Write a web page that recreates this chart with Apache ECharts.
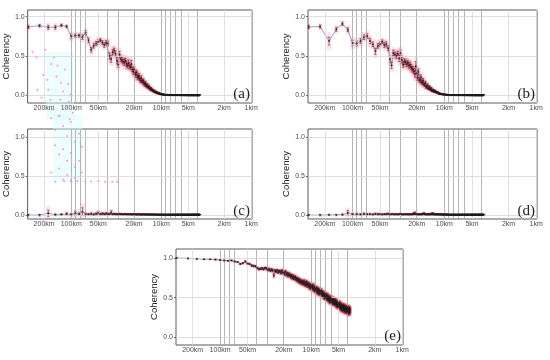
<!DOCTYPE html>
<html><head><meta charset="utf-8">
<script src="https://cdn.jsdelivr.net/npm/echarts@6/dist/echarts.min.js"></script>
<style>html,body{margin:0;padding:0;background:#fff}#c{width:550px;height:360px}</style>
</head><body><div id="c"></div>
<script>
// wavelength of each spectral estimate (km), wavenumber index n = 3..240
const wavelengthKm = [
300,225,180,150,128.6,112.5,100,90,81.8,75,
69.2,64.3,60,56.3,52.9,50,47.4,45,42.9,40.9,
39.1,37.5,36,34.6,33.3,32.1,31.0,30,29.0,28.1,
27.3,26.5,25.7,25,24.3,23.7,23.1,22.5,21.95,21.43,
20.93,20.45,20,19.57,19.15,18.75,18.37,18,17.65,17.31,
16.98,16.67,16.36,16.07,15.79,15.52,15.25,15,14.75,14.52,
14.29,14.06,13.85,13.64,13.43,13.24,13.04,12.86,12.68,12.5,
12.33,12.16,12,11.84,11.69,11.54,11.39,11.25,11.11,10.98,
10.84,10.71,10.59,10.47,10.34,10.23,10.11,10,9.89,9.78,
9.68,9.57,9.47,9.38,9.28,9.18,9.09,9,8.91,8.82,
8.74,8.65,8.57,8.49,8.41,8.33,8.26,8.18,8.11,8.04,
7.96,7.89,7.83,7.76,7.69,7.63,7.56,7.5,7.44,7.38,
7.32,7.26,7.2,7.14,7.09,7.03,6.98,6.92,6.87,6.82,
6.77,6.72,6.67,6.62,6.57,6.52,6.47,6.43,6.38,6.34,
6.29,6.25,6.21,6.16,6.12,6.08,6.04,6,5.96,5.92,
5.88,5.84,5.81,5.77,5.73,5.70,5.66,5.63,5.59,5.56,
5.52,5.49,5.45,5.42,5.39,5.36,5.33,5.29,5.26,5.23,
5.20,5.17,5.14,5.11,5.08,5.06,5.03,5,4.97,4.95,
4.92,4.89,4.86,4.84,4.81,4.79,4.76,4.74,4.71,4.69,
4.66,4.64,4.62,4.59,4.57,4.55,4.52,4.5,4.48,4.46,
4.43,4.41,4.39,4.37,4.35,4.33,4.31,4.29,4.27,4.25,
4.23,4.21,4.19,4.17,4.15,4.13,4.11,4.09,4.07,4.05,
4.04,4.02,4,3.98,3.96,3.95,3.93,3.91,3.90,3.88,
3.86,3.85,3.83,3.81,3.80,3.78,3.77,3.75];

// ---- panel (a)
const cohA = [
0.87,0.885,0.865,0.865,0.89,0.875,0.75,0.76,0.76,0.74,
0.80,0.70,0.58,0.63,0.66,0.68,0.70,0.67,0.64,0.67,
0.66,0.50,0.46,0.55,0.57,0.53,0.44,0.39,0.52,0.46,
0.45,0.43,0.42,0.44,0.40,0.38,0.41,0.38,0.36,0.40,
0.33,0.30,0.33,0.28,0.26,0.29,0.24,0.23,0.25,0.21,
0.19,0.22,0.18,0.17,0.19,0.15,0.14,0.16,0.13,0.12,
0.13,0.11,0.10,0.11,0.09,0.08,0.09,0.075,0.07,0.065,
0.06,0.06,0.05,0.05,0.045,0.04,0.04,0.035,0.035,0.03,
0.03,0.025,0.025,0.02,0.02,0.02,0.015,0.015,0.012,0.01,
0.012,0.01,0.008,0.01,0.008,0.006,0.008,0.006,0.005,0.007,
0.006,0.004,0.007,0.005,0.003,0.006,0.005,0.004,0.007,0.005,
0.004,0.006,0.003,0.005,0.006,0.004,0.005,0.003,0.006,0.004,
0.005,0.003,0.004,0.006,0.004,0.005,0.003,0.005,0.004,0.006,
0.003,0.005,0.004,0.003,0.005,0.004,0.006,0.003,0.004,0.005,
0.004,0.003,0.005,0.004,0.003,0.004,0.005,0.003,0.004,0.003,
0.005,0.003,0.004,0.003,0.004,0.005,0.003,0.004,0.003,0.004,
0.003,0.004,0.003,0.005,0.003,0.004,0.003,0.004,0.003,0.003,
0.004,0.003,0.004,0.003,0.003,0.004,0.003,0.004,0.003,0.003,
0.003,0.004,0.003,0.003,0.004,0.003,0.003,0.004,0.003,0.003,
0.004,0.003,0.003,0.004,0.003,0.003,0.004,0.003,0.003,0.004,
0.003,0.003,0.004,0.003,0.003,0.004,0.003,0.003,0.004,0.003,
0.003,0.004,0.003,0.003,0.004,0.003,0.003,0.004,0.003,0.003,
0.004,0.003,0.003,0.004,0.003,0.003,0.004,0.003,0.003,0.004,
0.003,0.003,0.004,0.003,0.003,0.004,0.003,0.003];
const errA = [
0.02,0.015,0.025,0.025,0.015,0.015,0.03,0.02,0.02,0.03,
0.025,0.03,0.03,0.03,0.025,0.03,0.02,0.025,0.03,0.025,
0.03,0.04,0.04,0.035,0.03,0.035,0.04,0.035,0.04,0.03,
0.035,0.03,0.04,0.03,0.035,0.03,0.04,0.035,0.03,0.045,
0.03,0.035,0.03,0.03,0.035,0.025,0.03,0.025,0.03,0.025,
0.025,0.03,0.02,0.025,0.02,0.02,0.025,0.02,0.015,0.02,
0.02,0.015,0.015,0.02,0.015,0.015,0.012,0.015,0.012,0.01,
0.012,0.01,0.01,0.012,0.01,0.008,0.01,0.008,0.008,0.008,
0.008,0.008,0.007,0.008,0.007,0.007,0.006,0.007,0.006,0.006,
0.006,0.005,0.006,0.005,0.005,0.006,0.005,0.005,0.004,0.005,
0.005,0.004,0.005,0.004,0.004,0.005,0.004,0.005,0.004,0.004,
0.004,0.005,0.004,0.004,0.005,0.004,0.004,0.005,0.004,0.004,
0.005,0.004,0.004,0.005,0.004,0.004,0.005,0.004,0.004,0.005,
0.004,0.004,0.005,0.004,0.004,0.005,0.004,0.004,0.005,0.004,
0.004,0.005,0.004,0.004,0.005,0.004,0.004,0.005,0.004,0.004,
0.005,0.004,0.004,0.005,0.004,0.004,0.005,0.004,0.004,0.005,
0.004,0.004,0.005,0.004,0.004,0.005,0.004,0.004,0.005,0.004,
0.004,0.005,0.004,0.004,0.005,0.004,0.004,0.005,0.004,0.004,
0.005,0.004,0.004,0.005,0.004,0.004,0.005,0.004,0.004,0.005,
0.004,0.004,0.005,0.004,0.004,0.005,0.004,0.004,0.005,0.004,
0.004,0.005,0.004,0.004,0.005,0.004,0.004,0.005,0.004,0.004,
0.005,0.004,0.004,0.005,0.004,0.004,0.005,0.004,0.004,0.005,
0.004,0.004,0.005,0.004,0.004,0.005,0.004,0.004,0.005,0.004,
0.004,0.005,0.004,0.004,0.005,0.004,0.004,0.005];

// ---- panel (b)
const cohB = [
0.87,0.875,0.69,0.84,0.91,0.835,0.665,0.66,0.69,0.74,
0.755,0.69,0.65,0.56,0.63,0.65,0.68,0.64,0.65,0.60,
0.46,0.38,0.54,0.52,0.50,0.53,0.47,0.54,0.45,0.39,
0.43,0.42,0.40,0.41,0.38,0.39,0.36,0.34,0.33,0.31,
0.27,0.37,0.28,0.22,0.30,0.20,0.19,0.23,0.17,0.16,
0.19,0.14,0.13,0.16,0.11,0.11,0.13,0.09,0.09,0.11,
0.08,0.07,0.09,0.06,0.06,0.07,0.05,0.05,0.06,0.045,
0.04,0.045,0.035,0.03,0.035,0.025,0.025,0.02,0.022,0.018,
0.017,0.015,0.016,0.012,0.013,0.011,0.01,0.009,0.01,0.008,
0.008,0.007,0.008,0.006,0.007,0.005,0.006,0.005,0.006,0.004,
0.005,0.003,0.006,0.004,0.005,0.003,0.006,0.004,0.005,0.004,
0.006,0.004,0.005,0.003,0.005,0.004,0.006,0.003,0.004,0.005,
0.004,0.005,0.003,0.004,0.006,0.003,0.004,0.005,0.003,0.004,
0.005,0.003,0.004,0.004,0.003,0.005,0.004,0.003,0.004,0.005,
0.003,0.004,0.004,0.003,0.005,0.003,0.004,0.003,0.004,0.004,
0.003,0.004,0.003,0.005,0.003,0.004,0.004,0.003,0.004,0.003,
0.004,0.003,0.004,0.003,0.004,0.003,0.003,0.004,0.003,0.004,
0.003,0.004,0.003,0.003,0.004,0.003,0.004,0.003,0.003,0.004,
0.003,0.003,0.004,0.003,0.003,0.004,0.003,0.003,0.004,0.003,
0.003,0.004,0.003,0.003,0.004,0.003,0.003,0.004,0.003,0.003,
0.004,0.003,0.003,0.004,0.003,0.003,0.004,0.003,0.003,0.004,
0.003,0.003,0.004,0.003,0.003,0.004,0.003,0.003,0.004,0.003,
0.003,0.004,0.003,0.003,0.004,0.003,0.003,0.004,0.003,0.003,
0.004,0.003,0.003,0.004,0.003,0.003,0.004,0.003];
const errB = [
0.02,0.02,0.05,0.025,0.02,0.025,0.035,0.03,0.03,0.03,
0.03,0.035,0.03,0.04,0.03,0.03,0.025,0.03,0.03,0.03,
0.04,0.04,0.035,0.03,0.035,0.03,0.04,0.035,0.04,0.035,
0.035,0.03,0.035,0.03,0.035,0.03,0.035,0.03,0.035,0.03,
0.04,0.06,0.035,0.03,0.035,0.03,0.03,0.03,0.025,0.025,
0.025,0.02,0.02,0.02,0.02,0.018,0.018,0.015,0.015,0.015,
0.015,0.012,0.012,0.012,0.01,0.01,0.01,0.01,0.008,0.008,
0.008,0.008,0.008,0.007,0.007,0.007,0.006,0.006,0.006,0.006,
0.006,0.005,0.006,0.005,0.005,0.006,0.005,0.005,0.005,0.005,
0.005,0.004,0.005,0.005,0.004,0.005,0.004,0.005,0.004,0.004,
0.005,0.004,0.004,0.005,0.004,0.004,0.005,0.004,0.004,0.005,
0.004,0.004,0.005,0.004,0.004,0.005,0.004,0.004,0.005,0.004,
0.004,0.005,0.004,0.004,0.005,0.004,0.004,0.005,0.004,0.004,
0.005,0.004,0.004,0.005,0.004,0.004,0.005,0.004,0.004,0.005,
0.004,0.004,0.005,0.004,0.004,0.005,0.004,0.004,0.005,0.004,
0.004,0.005,0.004,0.004,0.005,0.004,0.004,0.005,0.004,0.004,
0.005,0.004,0.004,0.005,0.004,0.004,0.005,0.004,0.004,0.005,
0.004,0.004,0.005,0.004,0.004,0.005,0.004,0.004,0.005,0.004,
0.004,0.005,0.004,0.004,0.005,0.004,0.004,0.005,0.004,0.004,
0.005,0.004,0.004,0.005,0.004,0.004,0.005,0.004,0.004,0.005,
0.004,0.004,0.005,0.004,0.004,0.005,0.004,0.004,0.005,0.004,
0.004,0.005,0.004,0.004,0.005,0.004,0.004,0.005,0.004,0.004,
0.005,0.004,0.004,0.005,0.004,0.004,0.005,0.004,0.004,0.005,
0.004,0.004,0.005,0.004,0.004,0.005,0.004,0.004];

// ---- panel (c)
const cohC = [
0.0,0.0,0.025,0.005,0.008,0.015,0.008,0.025,0.015,0.045,
0.012,0.01,0.015,0.008,0.015,0.028,0.012,0.018,0.01,0.02,
0.012,0.015,0.035,0.01,0.015,0.01,0.012,0.008,0.015,0.01,
0.012,0.008,0.01,0.014,0.008,0.01,0.012,0.007,0.01,0.009,
0.008,0.011,0.007,0.01,0.008,0.006,0.01,0.008,0.007,0.009,
0.007,0.009,0.006,0.008,0.007,0.01,0.006,0.008,0.007,0.006,
0.008,0.006,0.007,0.009,0.006,0.007,0.006,0.008,0.006,0.007,
0.006,0.008,0.005,0.007,0.006,0.005,0.007,0.006,0.005,0.006,
0.007,0.005,0.006,0.005,0.007,0.006,0.005,0.006,0.005,0.007,
0.005,0.006,0.005,0.004,0.006,0.005,0.006,0.004,0.005,0.006,
0.005,0.004,0.006,0.005,0.004,0.005,0.006,0.004,0.005,0.004,
0.006,0.005,0.004,0.005,0.006,0.004,0.005,0.004,0.006,0.005,
0.004,0.005,0.006,0.004,0.005,0.004,0.005,0.006,0.004,0.005,
0.005,0.004,0.005,0.006,0.004,0.005,0.004,0.005,0.004,0.006,
0.004,0.005,0.004,0.005,0.006,0.004,0.005,0.004,0.005,0.004,
0.005,0.004,0.006,0.004,0.005,0.004,0.005,0.004,0.005,0.004,
0.004,0.005,0.004,0.005,0.004,0.005,0.004,0.004,0.005,0.004,
0.005,0.004,0.004,0.005,0.004,0.005,0.004,0.004,0.005,0.004,
0.004,0.005,0.004,0.004,0.005,0.004,0.004,0.005,0.004,0.004,
0.005,0.004,0.004,0.005,0.004,0.004,0.005,0.004,0.004,0.005,
0.004,0.004,0.005,0.004,0.004,0.005,0.004,0.004,0.005,0.004,
0.004,0.005,0.004,0.004,0.005,0.004,0.004,0.005,0.004,0.004,
0.005,0.004,0.004,0.005,0.004,0.004,0.005,0.004,0.004,0.005,
0.004,0.004,0.005,0.004,0.004,0.005,0.004,0.004];
const errC = [
0.01,0.01,0.04,0.01,0.01,0.015,0.01,0.025,0.015,0.05,
0.015,0.01,0.015,0.01,0.015,0.02,0.01,0.015,0.01,0.015,
0.01,0.01,0.02,0.008,0.01,0.008,0.01,0.008,0.01,0.008,
0.008,0.007,0.008,0.008,0.007,0.008,0.007,0.007,0.008,0.007,
0.007,0.006,0.007,0.007,0.006,0.007,0.006,0.006,0.007,0.006,
0.006,0.006,0.005,0.006,0.006,0.005,0.006,0.005,0.006,0.005,
0.005,0.006,0.005,0.005,0.006,0.005,0.005,0.006,0.005,0.005,
0.005,0.005,0.004,0.005,0.005,0.004,0.005,0.004,0.005,0.004,
0.004,0.005,0.004,0.004,0.005,0.004,0.004,0.005,0.004,0.004,
0.005,0.004,0.004,0.005,0.004,0.004,0.005,0.004,0.004,0.005,
0.004,0.004,0.005,0.004,0.004,0.005,0.004,0.004,0.005,0.004,
0.004,0.005,0.004,0.004,0.005,0.004,0.004,0.005,0.004,0.004,
0.005,0.004,0.004,0.005,0.004,0.004,0.005,0.004,0.004,0.005,
0.004,0.004,0.005,0.004,0.004,0.005,0.004,0.004,0.005,0.004,
0.004,0.005,0.004,0.004,0.005,0.004,0.004,0.005,0.004,0.004,
0.005,0.004,0.004,0.005,0.004,0.004,0.005,0.004,0.004,0.005,
0.004,0.004,0.005,0.004,0.004,0.005,0.004,0.004,0.005,0.004,
0.004,0.005,0.004,0.004,0.005,0.004,0.004,0.005,0.004,0.004,
0.005,0.004,0.004,0.005,0.004,0.004,0.005,0.004,0.004,0.005,
0.004,0.004,0.005,0.004,0.004,0.005,0.004,0.004,0.005,0.004,
0.004,0.005,0.004,0.004,0.005,0.004,0.004,0.005,0.004,0.004,
0.005,0.004,0.004,0.005,0.004,0.004,0.005,0.004,0.004,0.005,
0.004,0.004,0.005,0.004,0.004,0.005,0.004,0.004,0.005,0.004,
0.004,0.005,0.004,0.004,0.005,0.004,0.004,0.005];

// ---- panel (d)
const cohD = [
0.0,0.0,0.003,0.002,0.005,0.03,0.01,0.012,0.008,0.015,
0.01,0.012,0.008,0.015,0.01,0.012,0.008,0.01,0.012,0.015,
0.008,0.01,0.012,0.009,0.011,0.008,0.01,0.013,0.009,0.008,
0.01,0.008,0.012,0.009,0.007,0.01,0.008,0.011,0.009,0.02,
0.025,0.012,0.008,0.01,0.009,0.012,0.008,0.01,0.009,0.011,
0.015,0.02,0.01,0.009,0.012,0.008,0.01,0.009,0.012,0.008,
0.01,0.009,0.018,0.012,0.009,0.02,0.01,0.008,0.009,0.011,
0.008,0.009,0.007,0.01,0.008,0.007,0.009,0.008,0.007,0.009,
0.008,0.007,0.006,0.008,0.007,0.006,0.008,0.007,0.006,0.007,
0.006,0.007,0.006,0.005,0.007,0.006,0.005,0.006,0.007,0.005,
0.006,0.005,0.006,0.005,0.004,0.006,0.005,0.006,0.004,0.005,
0.006,0.004,0.005,0.006,0.005,0.004,0.006,0.005,0.004,0.005,
0.005,0.004,0.006,0.005,0.004,0.005,0.004,0.006,0.005,0.004,
0.005,0.006,0.004,0.005,0.004,0.005,0.006,0.004,0.005,0.004,
0.004,0.005,0.004,0.006,0.004,0.005,0.004,0.005,0.004,0.005,
0.005,0.004,0.005,0.004,0.006,0.004,0.005,0.004,0.004,0.005,
0.004,0.005,0.004,0.004,0.005,0.004,0.005,0.004,0.004,0.005,
0.004,0.004,0.005,0.004,0.004,0.005,0.004,0.004,0.005,0.004,
0.005,0.004,0.004,0.005,0.004,0.004,0.005,0.004,0.004,0.005,
0.004,0.004,0.005,0.004,0.004,0.005,0.004,0.004,0.005,0.004,
0.004,0.005,0.004,0.004,0.005,0.004,0.004,0.005,0.004,0.004,
0.005,0.004,0.004,0.005,0.004,0.004,0.005,0.004,0.004,0.005,
0.004,0.004,0.005,0.004,0.004,0.005,0.004,0.004,0.005,0.004,
0.004,0.005,0.004,0.004,0.005,0.004,0.004,0.005];
const errD = [
0.008,0.008,0.008,0.008,0.01,0.03,0.01,0.012,0.01,0.012,
0.01,0.01,0.008,0.012,0.01,0.01,0.008,0.01,0.01,0.012,
0.008,0.009,0.01,0.008,0.009,0.008,0.009,0.01,0.008,0.008,
0.008,0.007,0.009,0.008,0.007,0.008,0.007,0.008,0.007,0.012,
0.015,0.009,0.007,0.008,0.007,0.008,0.007,0.008,0.007,0.008,
0.01,0.012,0.008,0.007,0.008,0.007,0.007,0.007,0.008,0.007,
0.007,0.007,0.01,0.008,0.007,0.012,0.007,0.006,0.007,0.007,
0.006,0.006,0.006,0.006,0.006,0.005,0.006,0.006,0.005,0.006,
0.005,0.005,0.005,0.006,0.005,0.005,0.005,0.005,0.005,0.005,
0.005,0.004,0.005,0.005,0.004,0.005,0.004,0.005,0.004,0.004,
0.005,0.004,0.004,0.005,0.004,0.004,0.005,0.004,0.004,0.005,
0.004,0.004,0.005,0.004,0.004,0.005,0.004,0.004,0.005,0.004,
0.004,0.005,0.004,0.004,0.005,0.004,0.004,0.005,0.004,0.004,
0.005,0.004,0.004,0.005,0.004,0.004,0.005,0.004,0.004,0.005,
0.004,0.004,0.005,0.004,0.004,0.005,0.004,0.004,0.005,0.004,
0.004,0.005,0.004,0.004,0.005,0.004,0.004,0.005,0.004,0.004,
0.005,0.004,0.004,0.005,0.004,0.004,0.005,0.004,0.004,0.005,
0.004,0.004,0.005,0.004,0.004,0.005,0.004,0.004,0.005,0.004,
0.004,0.005,0.004,0.004,0.005,0.004,0.004,0.005,0.004,0.004,
0.005,0.004,0.004,0.005,0.004,0.004,0.005,0.004,0.004,0.005,
0.004,0.004,0.005,0.004,0.004,0.005,0.004,0.004,0.005,0.004,
0.004,0.005,0.004,0.004,0.005,0.004,0.004,0.005,0.004,0.004,
0.005,0.004,0.004,0.005,0.004,0.004,0.005,0.004,0.004,0.005,
0.004,0.004,0.005,0.004,0.004,0.005,0.004,0.004];

// ---- panel (e)
const cohE = [
1.0,0.995,0.99,0.985,0.985,0.98,0.975,0.97,0.965,0.97,
0.955,0.95,0.925,0.935,0.955,0.93,0.925,0.905,0.90,0.895,
0.875,0.86,0.865,0.87,0.86,0.875,0.87,0.85,0.86,0.84,
0.855,0.845,0.78,0.84,0.83,0.845,0.82,0.835,0.83,0.81,
0.84,0.82,0.815,0.80,0.83,0.79,0.81,0.78,0.80,0.775,
0.79,0.76,0.78,0.75,0.77,0.74,0.755,0.76,0.73,0.745,
0.72,0.74,0.71,0.73,0.70,0.72,0.69,0.71,0.70,0.68,
0.70,0.68,0.71,0.67,0.69,0.66,0.68,0.70,0.65,0.67,
0.68,0.65,0.67,0.63,0.66,0.64,0.62,0.66,0.63,0.64,
0.64,0.61,0.65,0.62,0.60,0.63,0.59,0.62,0.61,0.58,
0.62,0.58,0.59,0.61,0.56,0.60,0.57,0.59,0.55,0.58,
0.58,0.55,0.57,0.59,0.54,0.56,0.53,0.57,0.55,0.52,
0.55,0.52,0.54,0.50,0.53,0.55,0.51,0.53,0.49,0.52,
0.52,0.49,0.51,0.53,0.48,0.50,0.47,0.51,0.49,0.46,
0.50,0.47,0.49,0.45,0.48,0.50,0.46,0.48,0.44,0.47,
0.48,0.45,0.47,0.43,0.46,0.48,0.44,0.46,0.42,0.45,
0.46,0.43,0.45,0.47,0.42,0.44,0.41,0.45,0.43,0.40,
0.44,0.41,0.43,0.39,0.42,0.44,0.40,0.42,0.38,0.41,
0.42,0.39,0.41,0.43,0.38,0.40,0.37,0.41,0.39,0.36,
0.40,0.37,0.39,0.35,0.38,0.40,0.36,0.38,0.34,0.37,
0.39,0.36,0.38,0.40,0.35,0.37,0.34,0.38,0.36,0.33,
0.38,0.35,0.37,0.33,0.36,0.38,0.34,0.36,0.32,0.35,
0.37,0.34,0.36,0.38,0.33,0.35,0.31,0.36,0.34,0.32,
0.36,0.33,0.35,0.30,0.34,0.37,0.32,0.34];
const errE = [
0.005,0.005,0.005,0.005,0.005,0.005,0.005,0.005,0.005,0.005,
0.006,0.006,0.008,0.008,0.01,0.008,0.008,0.01,0.01,0.01,
0.01,0.012,0.01,0.012,0.012,0.01,0.012,0.012,0.015,0.012,
0.012,0.015,0.02,0.015,0.015,0.012,0.015,0.015,0.015,0.015,
0.015,0.018,0.015,0.02,0.015,0.018,0.015,0.02,0.018,0.015,
0.018,0.02,0.015,0.018,0.02,0.015,0.018,0.02,0.018,0.015,
0.02,0.018,0.02,0.015,0.02,0.018,0.02,0.018,0.015,0.02,
0.018,0.02,0.018,0.02,0.015,0.02,0.018,0.02,0.02,0.018,
0.02,0.018,0.02,0.02,0.018,0.02,0.022,0.02,0.018,0.02,
0.022,0.02,0.025,0.02,0.022,0.02,0.024,0.022,0.02,0.025,
0.022,0.02,0.025,0.02,0.022,0.02,0.024,0.022,0.02,0.025,
0.022,0.02,0.025,0.02,0.022,0.02,0.024,0.022,0.02,0.025,
0.022,0.02,0.025,0.02,0.022,0.02,0.024,0.022,0.02,0.025,
0.022,0.02,0.025,0.02,0.022,0.02,0.024,0.022,0.02,0.025,
0.022,0.02,0.025,0.02,0.022,0.02,0.024,0.022,0.02,0.025,
0.022,0.02,0.025,0.02,0.022,0.02,0.024,0.022,0.02,0.025,
0.022,0.02,0.025,0.02,0.022,0.02,0.024,0.022,0.02,0.025,
0.022,0.02,0.025,0.02,0.022,0.02,0.024,0.022,0.02,0.025,
0.022,0.02,0.025,0.02,0.022,0.02,0.024,0.022,0.02,0.025,
0.022,0.02,0.025,0.02,0.022,0.02,0.024,0.022,0.02,0.025,
0.022,0.02,0.025,0.02,0.022,0.02,0.024,0.022,0.02,0.025,
0.022,0.02,0.025,0.02,0.022,0.02,0.024,0.022,0.02,0.025,
0.022,0.02,0.025,0.02,0.022,0.02,0.024,0.022,0.02,0.025,
0.022,0.02,0.025,0.02,0.022,0.02,0.024,0.022];

// stray overlay speckles visible in the figure (panel a & c coordinates)
const strayA_km  = [268,243,194,167,204,238,180,146,130,117,108,101,132,160,113,96,142,184,123,106,214,170,136,104,155];
const strayA_coh = [0.555,0.48,0.58,0.40,0.26,0.07,0.07,0.24,0.16,0.33,0.14,0.01,-0.055,-0.18,-0.14,-0.22,0.38,0.20,0.05,-0.08,-0.03,-0.055,-0.26,-0.30,0.48];
const strayC_km  = [167,151,136,123,111,101,91,82,76,151,136,123,111,101,91,82,167,136,111,91,76,101,123,150,120,100,85,70,60,50,42,35,31];
const strayC_coh = [1.25,1.10,1.28,1.15,1.02,1.20,0.95,1.05,0.88,0.90,0.78,0.85,0.70,0.80,0.62,0.70,0.55,0.60,0.52,0.48,0.55,0.45,0.46,0.43,0.44,0.43,0.44,0.43,0.43,0.44,0.43,0.43,0.43];
const hazeA_km = [190,93,93,190], hazeA_coh = [0.55,0.55,-0.32,-0.32];
const hazeC_km = [160,75,75,160], hazeC_coh = [1.30,1.30,0.42,0.42];

// axis ticks
const xTickKm = [200,100,50,20,10,5,2,1];
const xTickLabels = ['200km','100km','50km','20km','10km','5km','2km','1km'];
const xDarkKm = [100,90,80,70,40,30,20,10,9,8,7,6,4];
const yTicks = [0,0.5,1];
const panelTags = ['(a)','(b)','(c)','(d)','(e)'];

// ---------- layout / style (not data) ----------
const layouts = [
  {grid:{left:25,top:10,width:227,height:93}, y:[-0.097,1.085], tag:[250,102]},
  {grid:{left:308,top:10,width:229,height:93}, y:[-0.097,1.085], tag:[535,102]},
  {grid:{left:25,top:129,width:227,height:90}, y:[-0.05,1.11], tag:[250,219]},
  {grid:{left:308,top:129,width:229,height:90}, y:[-0.05,1.11], tag:[535,219]},
  {grid:{left:176,top:249,width:227,height:96}, y:[-0.097,1.114], tag:[401,344]}
];
const panels = [[cohA,errA],[cohB,errB],[cohC,errC],[cohD,errD],[cohE,errE]];
const FONT = '"Liberation Sans", Arial, sans-serif';

const chart = echarts.init(document.getElementById('c'), null, {renderer:'canvas'});
const grids = [], xAxes = [], yAxes = [], series = [], graphics = [];
let mismatch = '';

panels.forEach(([vals, errs], i) => {
  if (vals.length !== wavelengthKm.length || errs.length !== wavelengthKm.length)
    mismatch += panelTags[i] + ' ' + vals.length + '/' + errs.length + ' ';
  const n = Math.min(wavelengthKm.length, vals.length, errs.length);
  const pts = [], tri = [];
  for (let k = 0; k < n; k++) { pts.push([wavelengthKm[k], vals[k]]); tri.push([wavelengthKm[k], vals[k], errs[k]]); }
  const L = layouts[i];
  grids.push(Object.assign({show:true, borderColor:'#5a5a5a', borderWidth:1, backgroundColor:'#fff'}, L.grid));
  xAxes.push({type:'log', gridIndex:i, logBase:10, min:0.98, max:305, inverse:true,
    axisLine:{show:false}, axisTick:{show:false}, axisLabel:{show:false}, splitLine:{show:false}});
  yAxes.push({type:'value', gridIndex:i, min:L.y[0], max:L.y[1],
    axisLine:{show:false}, splitLine:{show:false},
    axisTick:{show:true, length:2, customValues:yTicks, lineStyle:{color:'#444', width:0.8}},
    axisLabel:{customValues:yTicks, formatter:v => v.toFixed(1), fontSize:7, color:'#4d4d4d', margin:3, fontFamily:FONT},
    name:'Coherency', nameLocation:'middle', nameGap:11, nameRotate:90,
    nameTextStyle:{fontSize:9.5, color:'#222', fontFamily:FONT}});
  const mlData = [];
  xTickKm.forEach((v, k) => mlData.push({xAxis:v,
    lineStyle:{color: xDarkKm.includes(v) ? '#a3a3a3' : '#dadada', width:0.8, type:'solid'},
    label:{show:true, position:'start', formatter:xTickLabels[k], fontSize:7, color:'#4d4d4d', distance:2, fontFamily:FONT}}));
  xDarkKm.filter(v => !xTickKm.includes(v)).forEach(v => mlData.push({xAxis:v,
    lineStyle:{color:'#a3a3a3', width:0.8, type:'solid'}, label:{show:false}}));
  yTicks.forEach(v => mlData.push({yAxis:v, lineStyle:{color:'#d6d6d6', width:0.8, type:'solid'}, label:{show:false}}));
  series.push({type:'line', xAxisIndex:i, yAxisIndex:i, data:pts, z:1, silent:true, showSymbol:false,
    lineStyle:{opacity:0}, animation:false,
    markLine:{silent:true, symbol:['none','none'], animation:false, precision:4, data:mlData}});
  // pink uncertainty boxes
  series.push({type:'custom', xAxisIndex:i, yAxisIndex:i, z:2, silent:true, animation:false, data:tri,
    renderItem:(params, api) => {
      const x = api.value(0), v = api.value(1), e = api.value(2);
      const p1 = api.coord([x*1.06, v + 2.2*e]), p2 = api.coord([x/1.06, v - 2.2*e]);
      const shape = echarts.graphic.clipRectByRect(
        {x:Math.min(p1[0],p2[0]), y:Math.min(p1[1],p2[1]), width:Math.abs(p2[0]-p1[0]), height:Math.max(1,Math.abs(p2[1]-p1[1]))},
        params.coordSys);
      if (!shape) return null;
      return {type:'rect', shape, style:{fill:'rgba(230,16,56,0.11)'}};
    }});
  series.push({type:'line', xAxisIndex:i, yAxisIndex:i, data:pts, z:3, silent:true, showSymbol:false, animation:false,
    lineStyle:{color:'#8f92cf', width:0.9}});
  // error bars
  series.push({type:'custom', xAxisIndex:i, yAxisIndex:i, z:4, silent:true, animation:false, data:tri,
    renderItem:(params, api) => {
      const x = api.value(0), v = api.value(1), e = api.value(2);
      const t = api.coord([x, v + e]), b = api.coord([x, v - e]);
      const c = 1.2, st = {stroke:'#8c1a2b', lineWidth:0.6};
      return {type:'group', children:[
        {type:'line', shape:{x1:t[0],y1:t[1],x2:b[0],y2:b[1]}, style:st},
        {type:'line', shape:{x1:t[0]-c,y1:t[1],x2:t[0]+c,y2:t[1]}, style:st},
        {type:'line', shape:{x1:b[0]-c,y1:b[1],x2:b[0]+c,y2:b[1]}, style:st}]};
    }});
  series.push({type:'scatter', xAxisIndex:i, yAxisIndex:i, data:pts, z:5, silent:true, animation:false,
    symbol:'circle', symbolSize:2.0, itemStyle:{color:'#1e1e1e'}});
  graphics.push({type:'text', x:L.tag[0], y:L.tag[1], silent:true, z:20,
    style:{text:panelTags[i], align:'right', verticalAlign:'bottom', textAlign:'right', textVerticalAlign:'bottom',
      font:'15px "Liberation Serif", "DejaVu Serif", serif', fill:'#222'}});
});

function hazeSeries(idx, km, coh) {
  return {type:'custom', xAxisIndex:idx, yAxisIndex:idx, z:0, silent:true, animation:false, data:[[km[0], coh[0]]],
    renderItem:(params, api) => ({type:'polygon', shape:{points: km.map((k, j) => api.coord([k, coh[j]]))},
      style:{fill:'rgba(215,252,255,0.45)'}})};
}
series.push(hazeSeries(0, hazeA_km, hazeA_coh));
series.push(hazeSeries(2, hazeC_km, hazeC_coh));
series.push({type:'scatter', xAxisIndex:0, yAxisIndex:0, clip:false, z:7, silent:true, animation:false,
  symbolSize:2, itemStyle:{color:'#ff7ad9'}, data: strayA_km.map((k, j) => [k, strayA_coh[j]])});
series.push({type:'scatter', xAxisIndex:2, yAxisIndex:2, clip:false, z:7, silent:true, animation:false,
  symbolSize:2, itemStyle:{color:'#ff7ad9'}, data: strayC_km.map((k, j) => [k, strayC_coh[j]])});

if (mismatch) graphics.push({type:'text', x:5, y:350, style:{text:'LEN ' + mismatch, fill:'red', font:'10px sans-serif'}});

chart.setOption({animation:false, backgroundColor:'#fff', textStyle:{fontFamily:FONT},
  grid:grids, xAxis:xAxes, yAxis:yAxes, series, graphic:graphics});
</script></body></html>
